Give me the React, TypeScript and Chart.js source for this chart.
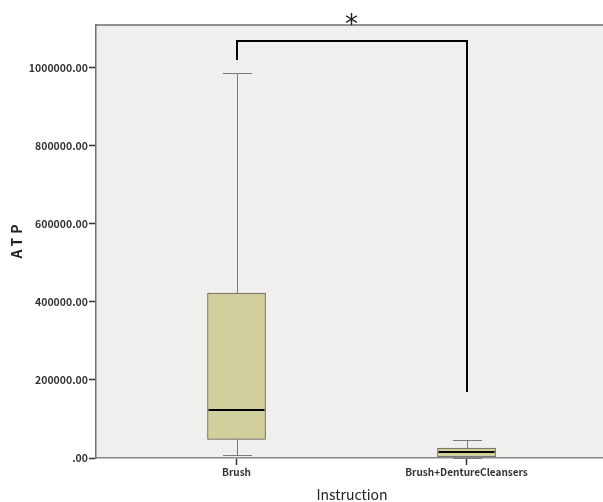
import React, { useEffect, useRef } from "react";
import { Chart, registerables } from "chart.js";

Chart.register(...registerables);

const categories = ["Brush", "Brush+DentureCleansers"];
const whiskerLow = [7700, 0];
const q1 = [47900, 2600];
const median = [123000, 14600];
const q3 = [423000, 25600];
const whiskerHigh = [987000, 47000];
const yTicks = [0, 200000, 400000, 600000, 800000, 1000000];
const bracketEnds = [1020000, 169000];
const bracketTop = 1070000;
const significance = "*";
const yTitle = "ATP";

const FONT = "'Noto Sans CJK JP', 'DejaVu Sans', sans-serif";

const boxPlugin = {
  id: "boxExtras",
  beforeDraw(chart: any) {
    const { ctx, chartArea: a } = chart;
    ctx.save();
    ctx.fillStyle = "#f0efed";
    ctx.fillRect(a.left, a.top, a.right - a.left, a.bottom - a.top);
    ctx.restore();
  },
  beforeDatasetsDraw(chart: any) {
    const { ctx } = chart;
    const xs = chart.scales.x;
    const ys = chart.scales.y;
    const meta = chart.getDatasetMeta(0);
    ctx.save();
    ctx.strokeStyle = "#7a7a7a";
    ctx.lineWidth = 1;
    categories.forEach((_, i) => {
      const cx = Math.round(xs.getPixelForValue(i + 1)) + 0.5;
      const half = (meta.data[i]?.width ?? 58) / 4;
      const yHi = Math.round(ys.getPixelForValue(whiskerHigh[i])) + 0.5;
      const yQ3 = ys.getPixelForValue(q3[i]);
      const yQ1 = ys.getPixelForValue(q1[i]);
      const yLo = Math.round(ys.getPixelForValue(whiskerLow[i])) + 0.5;
      ctx.beginPath();
      ctx.moveTo(cx, yHi);
      ctx.lineTo(cx, yQ3);
      ctx.moveTo(cx, yQ1);
      ctx.lineTo(cx, yLo);
      ctx.moveTo(cx - half, yHi);
      ctx.lineTo(cx + half, yHi);
      ctx.moveTo(cx - half, yLo);
      ctx.lineTo(cx + half, yLo);
      ctx.stroke();
    });
    ctx.restore();
  },
  afterDatasetsDraw(chart: any) {
    const { ctx, chartArea: a } = chart;
    const xs = chart.scales.x;
    const ys = chart.scales.y;
    const meta = chart.getDatasetMeta(0);
    ctx.save();
    // medians
    ctx.strokeStyle = "#000";
    ctx.lineWidth = 2;
    categories.forEach((_, i) => {
      const cx = xs.getPixelForValue(i + 1);
      const w = (meta.data[i]?.width ?? 58) / 2;
      const ym = Math.round(ys.getPixelForValue(median[i]));
      ctx.beginPath();
      ctx.moveTo(cx - w + 1, ym);
      ctx.lineTo(cx + w - 1, ym);
      ctx.stroke();
    });
    // bracket
    const x1 = Math.round(xs.getPixelForValue(1));
    const x2 = Math.round(xs.getPixelForValue(2));
    const yt = Math.round(ys.getPixelForValue(bracketTop));
    ctx.beginPath();
    ctx.moveTo(x1, ys.getPixelForValue(bracketEnds[0]));
    ctx.lineTo(x1, yt);
    ctx.lineTo(x2, yt);
    ctx.lineTo(x2, ys.getPixelForValue(bracketEnds[1]));
    ctx.stroke();
    // top border
    ctx.strokeStyle = "#6e6e6e";
    ctx.lineWidth = 1.5;
    ctx.beginPath();
    ctx.moveTo(a.left, a.top);
    ctx.lineTo(a.right, a.top);
    ctx.stroke();
    // significance marker
    ctx.fillStyle = "#222";
    ctx.font = `26px 'DejaVu Sans', sans-serif`;
    ctx.textAlign = "center";
    ctx.textBaseline = "alphabetic";
    ctx.fillText(significance, xs.getPixelForValue(1.5), 33);
    // y axis title with letter spacing
    ctx.save();
    ctx.translate(17, (a.top + a.bottom) / 2);
    ctx.rotate(-Math.PI / 2);
    ctx.font = `bold 14px ${FONT}`;
    (ctx as any).letterSpacing = "4px";
    ctx.textAlign = "center";
    ctx.textBaseline = "middle";
    ctx.fillStyle = "#222";
    ctx.fillText(yTitle, 2, 0);
    ctx.restore();
    ctx.restore();
  },
};

export default function App() {
  const ref = useRef<HTMLCanvasElement | null>(null);
  useEffect(() => {
    if (!ref.current) return;
    const chart = new Chart(ref.current, {
      type: "bar",
      data: {
        datasets: [
          {
            data: categories.map((_, i) => ({ x: i + 1, y: [q1[i], q3[i]] })) as any,
            backgroundColor: "#d1cf9b",
            borderColor: "#5c5c5c",
            borderWidth: 1,
            borderSkipped: false,
            barThickness: 58,
          },
        ],
      },
      options: {
        animation: false,
        responsive: false,
        layout: { padding: { top: 25, right: 0, left: 0, bottom: 0 } },
        plugins: { legend: { display: false }, tooltip: { enabled: false } },
        scales: {
          x: {
            type: "linear",
            min: 0.389,
            max: 2.615,
            offset: false,
            afterBuildTicks: (s: any) => {
              s.ticks = categories.map((_, i) => ({ value: i + 1 }));
            },
            afterFit: (s: any) => {
              s.height = 44;
            },
            ticks: {
              callback: (v: any) => categories[Number(v) - 1] ?? "",
              color: "#333",
              font: { family: FONT, size: 10, weight: "bold" },
              padding: 1,
              maxRotation: 0,
              autoSkip: false,
            },
            grid: {
              offset: false,
              drawOnChartArea: false,
              drawTicks: true,
              tickLength: 7,
              color: "#333",
              tickWidth: 1.5,
            },
            border: { display: true, color: "#8a8a8a", width: 1.5 },
            title: {
              display: true,
              text: "Instruction",
              color: "#222",
              font: { family: FONT, size: 14, lineHeight: 1 },
              padding: { top: 0, bottom: 0 },
            },
          },
          y: {
            type: "linear",
            min: 0,
            max: 1110000,
            afterBuildTicks: (s: any) => {
              s.ticks = yTicks.map((v) => ({ value: v }));
            },
            afterFit: (s: any) => {
              s.width = 96;
            },
            ticks: {
              callback: (v: any) => (Number(v) === 0 ? ".00" : `${v}.00`),
              color: "#333",
              font: { family: FONT, size: 10.5, weight: "bold" },
              padding: 1,
            },
            grid: { drawOnChartArea: false, drawTicks: true, tickLength: 7, color: "#333", tickWidth: 1.5 },
            border: { display: true, color: "#6e6e6e", width: 1.5 },
            title: { display: false },
          },
        },
      },
      plugins: [boxPlugin],
    });
    return () => chart.destroy();
  }, []);
  return (
    <div
      style={{
        position: "absolute",
        left: 0,
        top: 0,
        width: 603,
        height: 502,
        overflow: "hidden",
        background: "#fff",
      }}
    >
      <canvas ref={ref} width={608} height={502} style={{ display: "block" }} />
    </div>
  );
}
